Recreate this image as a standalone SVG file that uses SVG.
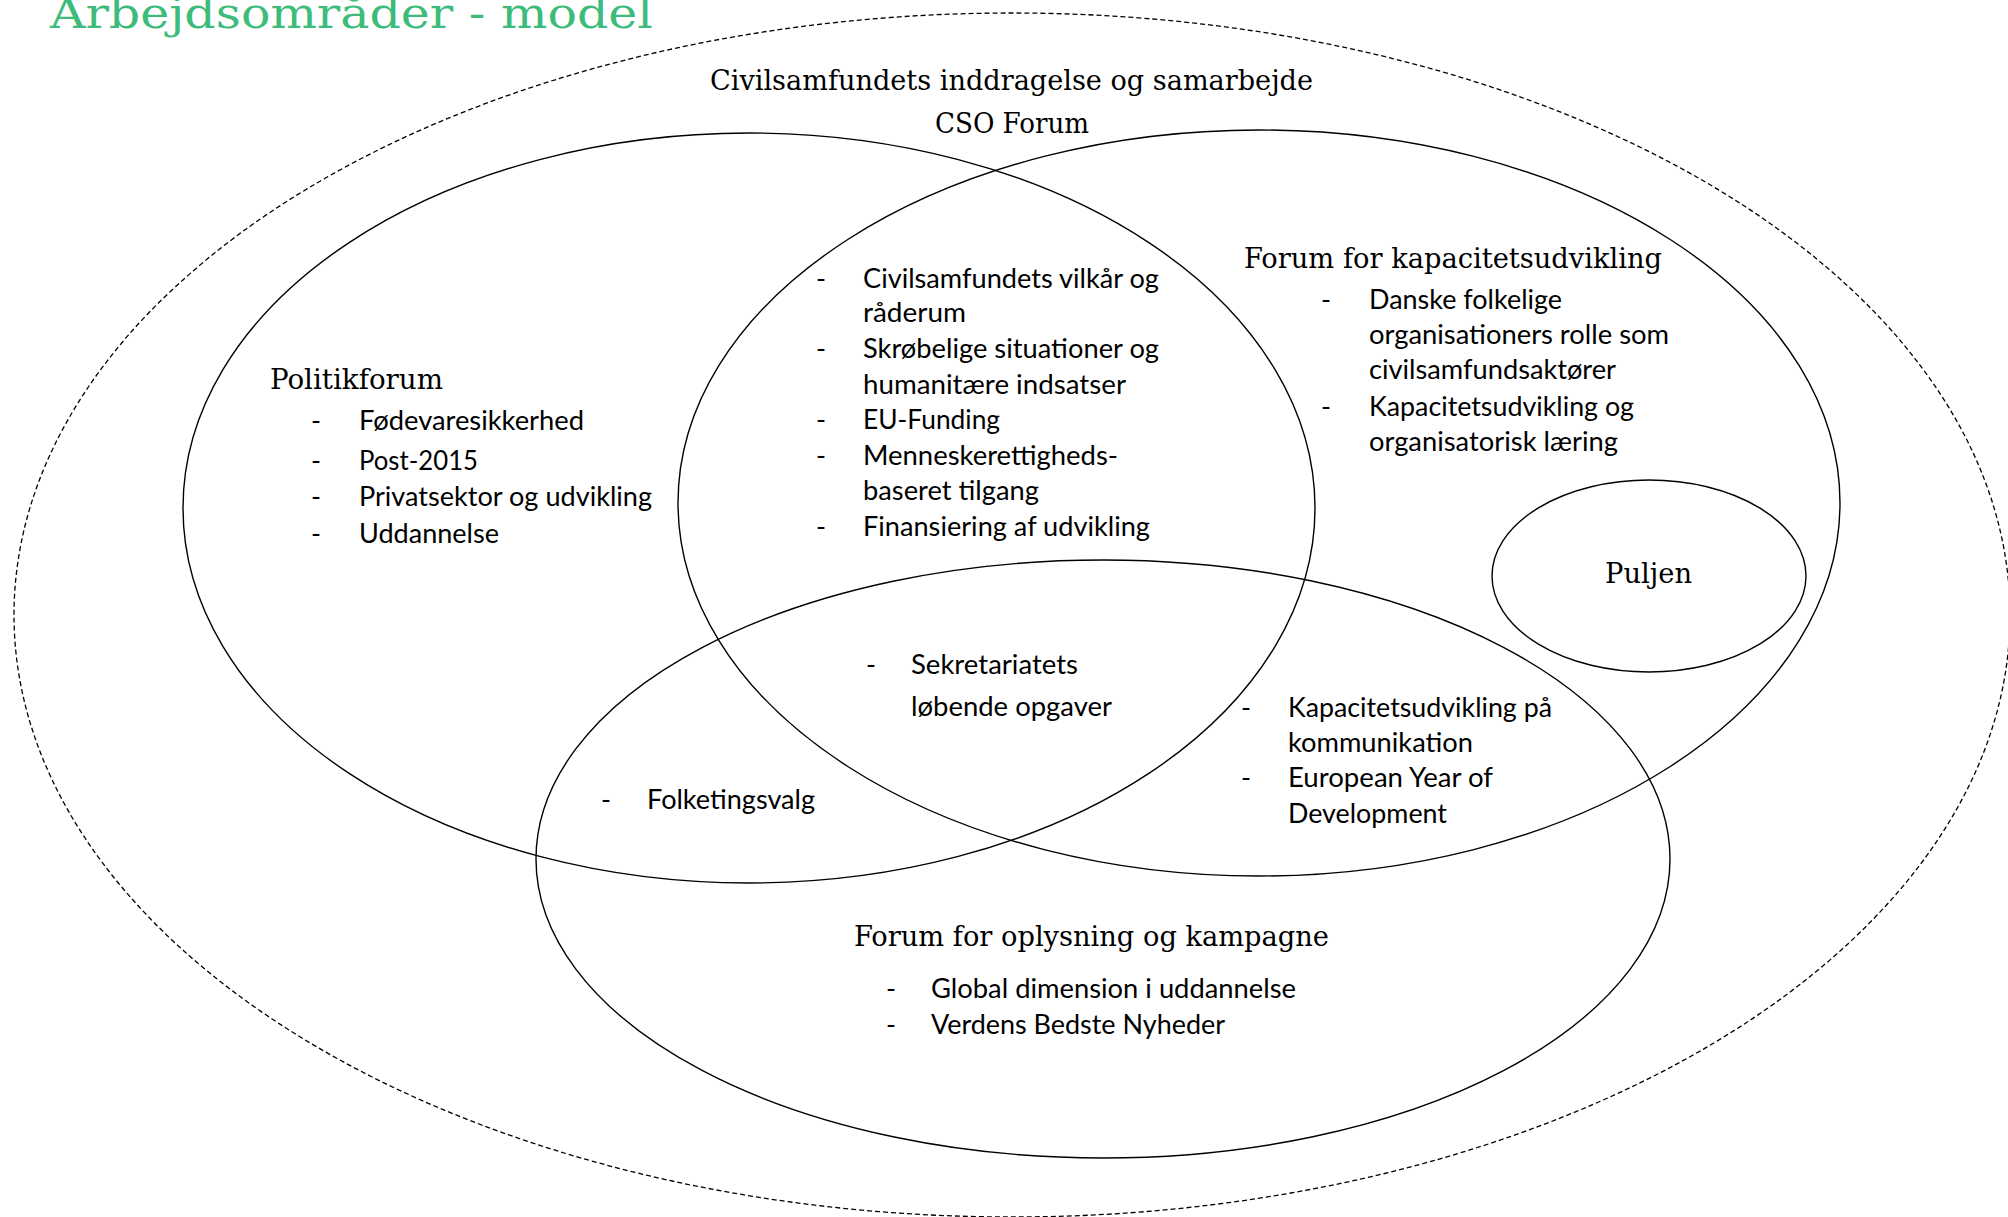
<svg xmlns="http://www.w3.org/2000/svg" width="2008" height="1217" viewBox="0 0 2008 1217">
<style>
  .bg { fill: #ffffff; }
  .ell { fill: none; stroke: #000; stroke-width: 1.4; }
  .dash { fill: none; stroke: #000; stroke-width: 1.3; stroke-dasharray: 5 3; }
  .title { font-family: "DejaVu Serif", "Liberation Serif", serif; font-size: 42px; fill: #3dbb7b; }
  .head { font-family: "DejaVu Serif Condensed", "DejaVu Serif", "Liberation Serif", serif; font-size: 27px; fill: #000; }
  .body { font-family: Lato, "Open Sans", "Liberation Sans", sans-serif; font-size: 27px; fill: #000; }
</style>
<rect class="bg" x="0" y="0" width="2008" height="1217"/>

<text class="title" x="50" y="28" textLength="603" lengthAdjust="spacingAndGlyphs">Arbejdsområder - model</text>

<g id="cso-forum">
  <ellipse class="dash" cx="1012" cy="615" rx="998" ry="602"/>
  <text class="head" x="710" y="90" textLength="603" lengthAdjust="spacingAndGlyphs">Civilsamfundets inddragelse og samarbejde</text>
  <text class="head" x="935" y="133" textLength="154" lengthAdjust="spacingAndGlyphs">CSO Forum</text>
</g>

<g id="politikforum">
  <ellipse class="ell" cx="749" cy="508" rx="566" ry="375"/>
  <text class="head" x="270" y="389" textLength="173" lengthAdjust="spacingAndGlyphs">Politikforum</text>
  <g class="body">
    <text x="311" y="430">-</text><text x="359" y="430" textLength="225" lengthAdjust="spacingAndGlyphs">Fødevaresikkerhed</text>
    <text x="311" y="470">-</text><text x="359" y="470" textLength="119" lengthAdjust="spacingAndGlyphs">Post-2015</text>
    <text x="311" y="506">-</text><text x="359" y="506" textLength="293" lengthAdjust="spacingAndGlyphs">Privatsektor og udvikling</text>
    <text x="311" y="543">-</text><text x="359" y="543" textLength="140" lengthAdjust="spacingAndGlyphs">Uddannelse</text>
  </g>
</g>

<g id="kapacitetsudvikling">
  <ellipse class="ell" cx="1259" cy="503" rx="581" ry="373"/>
  <text class="head" x="1244" y="268" textLength="418" lengthAdjust="spacingAndGlyphs">Forum for kapacitetsudvikling</text>
  <g class="body">
    <text x="1321" y="309">-</text><text x="1369" y="309" textLength="193" lengthAdjust="spacingAndGlyphs">Danske folkelige</text>
    <text x="1369" y="344" textLength="300" lengthAdjust="spacingAndGlyphs">organisationers rolle som</text>
    <text x="1369" y="379" textLength="247" lengthAdjust="spacingAndGlyphs">civilsamfundsaktører</text>
    <text x="1321" y="416">-</text><text x="1369" y="416" textLength="265" lengthAdjust="spacingAndGlyphs">Kapacitetsudvikling og</text>
    <text x="1369" y="451" textLength="249" lengthAdjust="spacingAndGlyphs">organisatorisk læring</text>
  </g>
</g>

<g id="oplysning">
  <ellipse class="ell" cx="1103" cy="859" rx="567" ry="299"/>
  <text class="head" x="854" y="946" textLength="475" lengthAdjust="spacingAndGlyphs">Forum for oplysning og kampagne</text>
  <g class="body">
    <text x="886" y="998">-</text><text x="931" y="998" textLength="365" lengthAdjust="spacingAndGlyphs">Global dimension i uddannelse</text>
    <text x="886" y="1034">-</text><text x="931" y="1034" textLength="294" lengthAdjust="spacingAndGlyphs">Verdens Bedste Nyheder</text>
  </g>
</g>

<g id="puljen">
  <ellipse class="ell" cx="1649" cy="576" rx="157" ry="96"/>
  <text class="head" x="1605" y="583" textLength="87" lengthAdjust="spacingAndGlyphs">Puljen</text>
</g>

<g id="politik-kapacitet">
  <g class="body">
    <text x="816" y="288">-</text><text x="863" y="288" textLength="296" lengthAdjust="spacingAndGlyphs">Civilsamfundets vilkår og</text>
    <text x="863" y="322" textLength="103" lengthAdjust="spacingAndGlyphs">råderum</text>
    <text x="816" y="358">-</text><text x="863" y="358" textLength="296" lengthAdjust="spacingAndGlyphs">Skrøbelige situationer og</text>
    <text x="863" y="394" textLength="263" lengthAdjust="spacingAndGlyphs">humanitære indsatser</text>
    <text x="816" y="429">-</text><text x="863" y="429" textLength="137" lengthAdjust="spacingAndGlyphs">EU-Funding</text>
    <text x="816" y="465">-</text><text x="863" y="465" textLength="255" lengthAdjust="spacingAndGlyphs">Menneskerettigheds-</text>
    <text x="863" y="500" textLength="176" lengthAdjust="spacingAndGlyphs">baseret tilgang</text>
    <text x="816" y="536">-</text><text x="863" y="536" textLength="287" lengthAdjust="spacingAndGlyphs">Finansiering af udvikling</text>
  </g>
</g>

<g id="alle-tre">
  <g class="body">
    <text x="866" y="674">-</text><text x="911" y="674" textLength="167" lengthAdjust="spacingAndGlyphs">Sekretariatets</text>
    <text x="911" y="716" textLength="201" lengthAdjust="spacingAndGlyphs">løbende opgaver</text>
  </g>
</g>

<g id="politik-oplysning">
  <g class="body">
    <text x="601" y="809">-</text><text x="647" y="809" textLength="168" lengthAdjust="spacingAndGlyphs">Folketingsvalg</text>
  </g>
</g>

<g id="kapacitet-oplysning">
  <g class="body">
    <text x="1241" y="717">-</text><text x="1288" y="717" textLength="264" lengthAdjust="spacingAndGlyphs">Kapacitetsudvikling på</text>
    <text x="1288" y="752" textLength="185" lengthAdjust="spacingAndGlyphs">kommunikation</text>
    <text x="1241" y="787">-</text><text x="1288" y="787" textLength="205" lengthAdjust="spacingAndGlyphs">European Year of</text>
    <text x="1288" y="823" textLength="159" lengthAdjust="spacingAndGlyphs">Development</text>
  </g>
</g>

<g id="connectors"></g>
</svg>
